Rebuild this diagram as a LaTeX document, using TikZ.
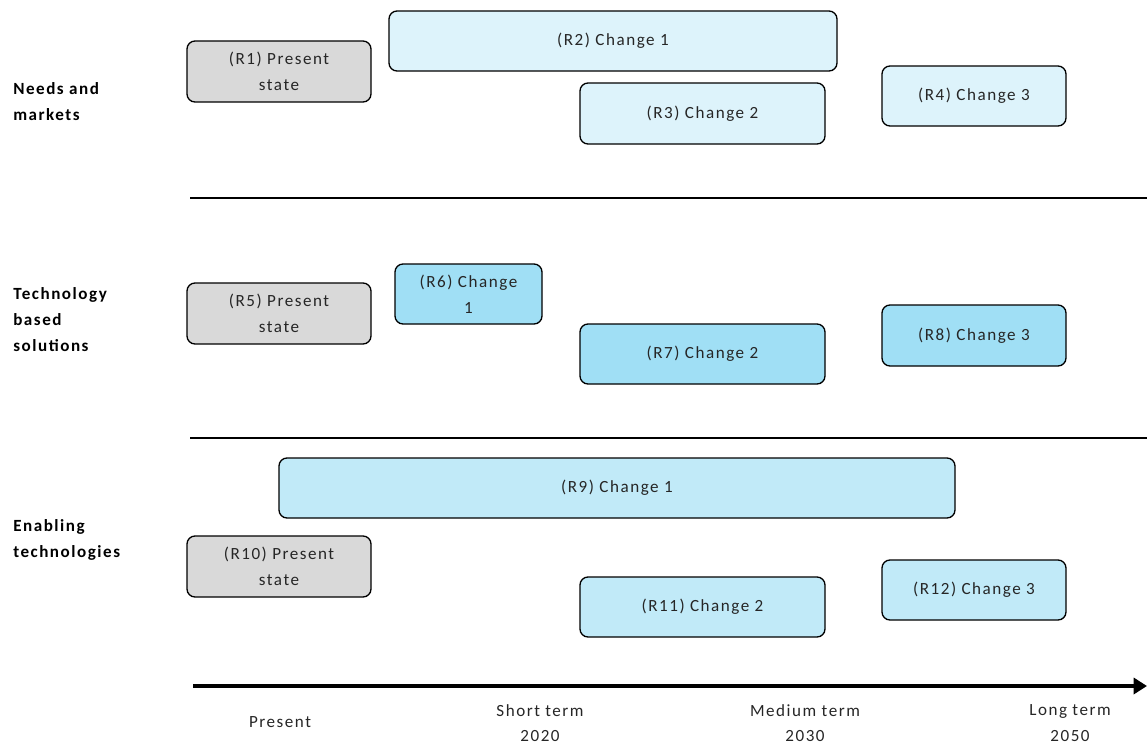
\documentclass[tikz,border=0pt]{standalone}
\usepackage{fontspec}
\setmainfont{Carlito}[LetterSpace=9]
\usetikzlibrary{arrows.meta}
\definecolor{grayfill}{HTML}{D9D9D9}
\definecolor{needsfill}{HTML}{DDF3FB}
\definecolor{techfill}{HTML}{A0DFF5}
\definecolor{enabfill}{HTML}{C1EAF8}
\tikzset{
  box/.style={draw=black, line width=1pt, rounded corners=6pt, inner sep=0pt, align=center, font=\fontsize{12.8pt}{19.5pt}\selectfont, text=black!85},
  rowlabel/.style={anchor=north west, align=left, font=\fontsize{12.8pt}{19.5pt}\selectfont\bfseries, inner sep=0pt},
  axislabel/.style={align=center, font=\fontsize{12.8pt}{19pt}\selectfont, inner sep=0pt, text=black!85},
  sep/.style={line width=1pt},
}
\newcommand{\rbox}[7]{% name, x1, y1, x2, y2, fill, text
  \node[box, fill=#6, minimum width={(#4-#2)*0.75pt}, minimum height={(#5-#3)*0.75pt}] (#1) at ({(#2+#4)/2}, {(#3+#5)/2}) {#7};
}
\begin{document}
\begin{tikzpicture}[x=0.75pt, y=-0.75pt]
\useasboundingbox (0,0) rectangle (1147,747);
% row labels
\node[rowlabel] (l1) at (13,82) {Needs and\\markets};
\node[rowlabel] (l2) at (13,287) {Technology\\based\\solutions};
\node[rowlabel] (l3) at (13,519) {Enabling\\technologies};
% separators
\coordinate (s1a) at (190,198); \coordinate (s1b) at (1147,198);
\coordinate (s2a) at (190,438); \coordinate (s2b) at (1147,438);
\draw[sep] (s1a) -- (s1b);
\draw[sep] (s2a) -- (s2b);
% boxes
\rbox{R1}{187}{41}{371}{102}{grayfill}{(R1) Present\\state}
\rbox{R2}{389}{11}{837}{71}{needsfill}{(R2) Change 1}
\rbox{R3}{580}{83}{825}{144}{needsfill}{(R3) Change 2}
\rbox{R4}{882}{66}{1066}{126}{needsfill}{(R4) Change 3}
\rbox{R5}{187}{283}{371}{344}{grayfill}{(R5) Present\\state}
\rbox{R6}{395}{264}{542}{324}{techfill}{(R6) Change\\1}
\rbox{R7}{580}{324}{825}{384}{techfill}{(R7) Change 2}
\rbox{R8}{882}{305}{1066}{366}{techfill}{(R8) Change 3}
\rbox{R9}{279}{458}{955}{518}{enabfill}{(R9) Change 1}
\rbox{R10}{187}{536}{371}{597}{grayfill}{(R10) Present\\state}
\rbox{R11}{580}{577}{825}{637}{enabfill}{(R11) Change 2}
\rbox{R12}{882}{560}{1066}{620}{enabfill}{(R12) Change 3}
% axis
\coordinate (ax1) at (193,686); \coordinate (ax2) at (1147,686);
\draw[line width=3.5pt, -{Triangle[length=10pt,width=12pt]}] (ax1) -- (ax2);
\node[axislabel] (t0) at (280,722) {Present};
\node[axislabel] (t1) at (540,723) {Short term\\2020};
\node[axislabel] (t2) at (805,723) {Medium term\\2030};
\node[axislabel] (t3) at (1070,723) {Long term\\2050};
\end{tikzpicture}
\end{document}
